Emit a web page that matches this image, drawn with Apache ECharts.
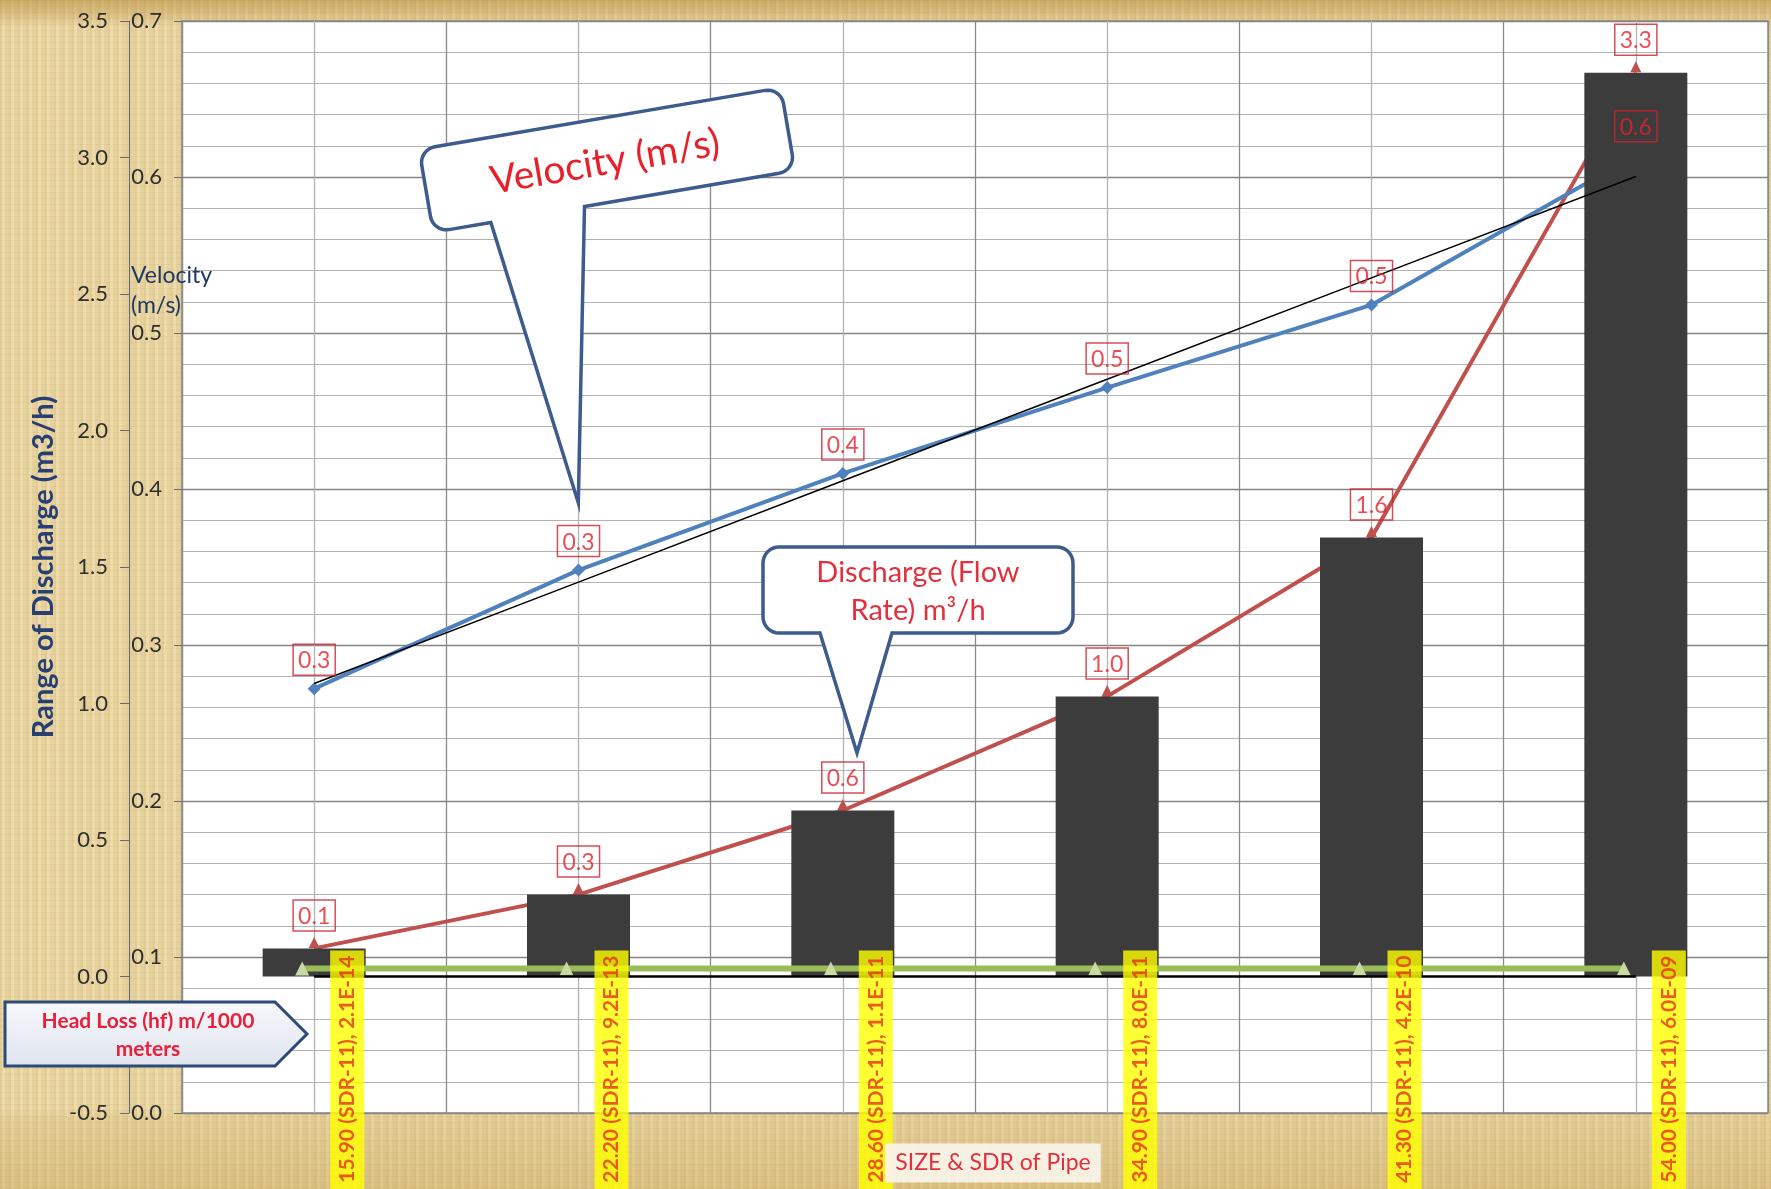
<!DOCTYPE html>
<html>
<head>
<meta charset="utf-8">
<script src="https://cdn.jsdelivr.net/npm/echarts@6/dist/echarts.min.js"></script>
<style>
html,body{margin:0;padding:0;}
body{
  width:1771px;height:1189px;overflow:hidden;
  background-color:#ebd7a3;
  background-image:
    linear-gradient(180deg, rgba(175,130,45,0.50) 0px, rgba(175,130,45,0.28) 14px, rgba(175,130,45,0) 26px),
    linear-gradient(0deg, rgba(185,145,60,0.30) 0px, rgba(185,145,60,0.12) 70px, rgba(185,145,60,0) 80px),
    repeating-linear-gradient(90deg, rgba(150,110,40,0.10) 0px, rgba(150,110,40,0.10) 2px, rgba(255,250,230,0.12) 2px, rgba(255,250,230,0.12) 5px, rgba(150,110,40,0.05) 5px, rgba(150,110,40,0.05) 9px),
    repeating-linear-gradient(0deg, rgba(140,100,30,0.07) 0px, rgba(140,100,30,0.07) 1px, rgba(255,255,255,0) 1px, rgba(255,255,255,0) 6px);
}
#chart{width:1771px;height:1189px;}
</style>
</head>
<body>
<div id="chart"></div>
<script>
// ---------------- DATA ----------------
const pipeSizes = ['15.90', '22.20', '28.60', '34.90', '41.30', '54.00'];
const pipeSdr = ['SDR-11', 'SDR-11', 'SDR-11', 'SDR-11', 'SDR-11', 'SDR-11'];
const headLoss = [2.1e-14, 9.2e-13, 1.1e-11, 8.0e-11, 4.2e-10, 6.0e-9];   // m/1000 m
const discharge = [0.103, 0.300, 0.608, 1.026, 1.608, 3.31];               // m3/h
const velocity = [0.272, 0.348, 0.410, 0.465, 0.518, 0.614];               // m/s
const dischargeAxis = { min: -0.5, max: 3.5, step: 0.5 };
const velocityAxis = { min: 0, max: 0.7, step: 0.1 };

// ---------------- helpers ----------------
function sci(v) {
  const parts = v.toExponential(1).split('e');
  const n = parseInt(parts[1], 10);
  return parts[0] + 'E' + (n < 0 ? '-' : '+') + String(Math.abs(n)).padStart(2, '0');
}
const categories = pipeSizes.map((s, i) => s + ' (' + pipeSdr[i] + '), ' + sci(headLoss[i]));

function linearTrend(vals) {
  const n = vals.length;
  const xs = vals.map((_, i) => i + 1);
  const mx = xs.reduce((a, b) => a + b, 0) / n;
  const my = vals.reduce((a, b) => a + b, 0) / n;
  let sxy = 0, sxx = 0;
  for (let i = 0; i < n; i++) { sxy += (xs[i] - mx) * (vals[i] - my); sxx += (xs[i] - mx) * (xs[i] - mx); }
  const b = sxy / sxx, a = my - b * mx;
  return xs.map(x => a + b * x);
}
const velocityTrend = linearTrend(velocity);
const headLossTrend = linearTrend(headLoss);

// callout outline (rounded rect + tail), local coords centred on box
function calloutPts(w, h, r, tail) {
  const pts = [], hw = w / 2, hh = h / 2;
  const arc = (cx, cy, a0, a1) => {
    for (let k = 0; k <= 8; k++) {
      const a = a0 + (a1 - a0) * k / 8;
      pts.push([cx + r * Math.cos(a), cy + r * Math.sin(a)]);
    }
  };
  arc(-hw + r, -hh + r, Math.PI, 1.5 * Math.PI);
  arc(hw - r, -hh + r, 1.5 * Math.PI, 2 * Math.PI);
  arc(hw - r, hh - r, 0, 0.5 * Math.PI);
  if (tail) { pts.push([tail.r, hh], [tail.tx, tail.ty], [tail.l, hh]); }
  arc(-hw + r, hh - r, 0.5 * Math.PI, Math.PI);
  return pts;
}
function place(pts, cx, cy, phi) {
  const c = Math.cos(phi), s = Math.sin(phi);
  return pts.map(p => [cx + p[0] * c - p[1] * s, cy + p[0] * s + p[1] * c]);
}

const FONT = 'Lato, "Liberation Sans", sans-serif';
const velPhi = -0.1692;
const velCallout = place(calloutPts(367, 84, 16, { l: -125, r: -30, tx: -86, ty: 333 }), 607, 160, velPhi);
const disCallout = place(calloutPts(310, 86, 16, { l: -98, r: -26, tx: -61, ty: 163 }), 918, 590, 0);

const boxLabel = {
  show: true, position: 'top', distance: 15,
  color: '#e3202c', fontSize: 23, fontFamily: FONT,
  borderColor: '#cc2230', borderWidth: 1.5, padding: [5, 5, 3, 5],
  formatter: p => Number(p.value).toFixed(1)
};

// ---------------- chart ----------------
const chart = echarts.init(document.getElementById('chart'), null, { renderer: 'canvas' });
chart.setOption({
  backgroundColor: 'transparent',
  animation: false,
  textStyle: { fontFamily: FONT },
  grid: [
    { left: 182, top: 21, right: 3, bottom: 76, show: true, backgroundColor: '#ffffff', borderColor: '#8c8c8c', borderWidth: 1.5 },
    { left: 170, top: 13, right: 15, bottom: 84, show: false }
  ],
  xAxis: [
    {
      type: 'category', gridIndex: 0, data: categories, boundaryGap: true,
      axisLine: { show: false, onZero: false }, axisTick: { show: false }, axisLabel: { show: false },
      splitLine: { show: false }
    },
    {
      type: 'category', gridIndex: 1, data: categories, boundaryGap: true, show: false
    },
    {
      type: 'value', gridIndex: 0, min: 0, max: 12, interval: 1, position: 'top',
      axisLine: { show: false }, axisTick: { show: false }, axisLabel: { show: false },
      splitLine: { show: true, lineStyle: { color: ['#8a8a8a', '#b3b3b3'], width: 1.3 } }
    }
  ],
  yAxis: [
    {
      type: 'value', gridIndex: 0, position: 'left', offset: 53,
      min: dischargeAxis.min, max: dischargeAxis.max, interval: dischargeAxis.step,
      axisLine: { show: true, onZero: false, lineStyle: { color: '#6a6a6a', width: 1.2 } },
      axisTick: { show: true, length: 9, lineStyle: { color: '#6a6a6a' } },
      axisLabel: { margin: 21, color: '#2e2e2e', fontSize: 22, fontFamily: FONT, formatter: v => v.toFixed(1) },
      splitLine: { show: false },
      name: 'Range of Discharge (m3/h)', nameLocation: 'middle', nameGap: 66,
      nameTextStyle: { color: '#283f73', fontSize: 29, fontWeight: 'bold', fontFamily: FONT }
    },
    {
      type: 'value', gridIndex: 0, position: 'left', offset: 0,
      min: velocityAxis.min, max: velocityAxis.max, interval: velocityAxis.step,
      axisLine: { show: true, onZero: false, lineStyle: { color: '#8c8c8c', width: 1.2 } },
      axisTick: { show: true, length: 8, lineStyle: { color: '#6a6a6a' } },
      axisLabel: { margin: 20, color: '#2e2e2e', fontSize: 22, fontFamily: FONT, formatter: v => v.toFixed(1) },
      splitLine: { show: true, lineStyle: { color: '#858585', width: 1.4 } },
      minorTick: { show: false, splitNumber: 5 },
      minorSplitLine: { show: true, lineStyle: { color: '#b3b3b3', width: 1.2 } }
    },
    {
      type: 'value', gridIndex: 1, min: dischargeAxis.min, max: dischargeAxis.max, show: false,
      axisLine: { onZero: false }, splitLine: { show: false }
    }
  ],
  series: [
    {
      name: 'Discharge line', type: 'line', xAxisIndex: 0, yAxisIndex: 0, data: discharge, z: 2,
      lineStyle: { color: '#c0504d', width: 4 }, itemStyle: { color: '#c0504d' },
      symbol: 'triangle', symbolSize: 11, symbolOffset: [0, -6]
    },
    {
      name: 'Velocity', type: 'line', xAxisIndex: 0, yAxisIndex: 1, data: velocity, z: 2,
      lineStyle: { color: '#4f81bd', width: 4 }, itemStyle: { color: '#4f81bd' },
      symbol: 'diamond', symbolSize: 13
    },
    {
      name: 'Discharge', type: 'bar', xAxisIndex: 0, yAxisIndex: 0, data: discharge, z: 3,
      barWidth: 103, itemStyle: { color: '#3c3c3c' }
    },
    {
      name: 'Head Loss', type: 'line', xAxisIndex: 1, yAxisIndex: 2, data: headLoss, z: 4,
      lineStyle: { color: '#9bbb59', width: 6 }, itemStyle: { color: '#c9d9a6' },
      symbol: 'triangle', symbolSize: 14
    },
    {
      name: 'Head Loss trend', type: 'line', xAxisIndex: 0, yAxisIndex: 0, data: headLossTrend, z: 5,
      lineStyle: { color: '#000', width: 2.5 }, symbol: 'none'
    },
    {
      name: 'Velocity trend', type: 'line', xAxisIndex: 0, yAxisIndex: 1, data: velocityTrend, z: 5,
      lineStyle: { color: '#000', width: 1.5 }, symbol: 'none'
    },
    {
      name: 'Discharge labels', type: 'scatter', xAxisIndex: 0, yAxisIndex: 0, data: discharge, z: 8,
      symbolSize: 1, itemStyle: { color: 'rgba(0,0,0,0)' }, label: Object.assign({}, boxLabel, { distance: 17 })
    },
    {
      name: 'Velocity labels', type: 'scatter', xAxisIndex: 0, yAxisIndex: 1, data: velocity, z: 8,
      symbolSize: 1, itemStyle: { color: 'rgba(0,0,0,0)' }, label: Object.assign({}, boxLabel, { distance: 13 })
    },
    {
      name: 'Pipe labels', type: 'scatter', xAxisIndex: 0, yAxisIndex: 0, data: headLoss, z: 7,
      symbolSize: 1, itemStyle: { color: 'rgba(0,0,0,0)' },
      label: {
        show: true, position: 'inside', rotate: 90, align: 'right', verticalAlign: 'middle',
        offset: [26, 33],
        formatter: p => categories[p.dataIndex],
        color: '#e5351a', fontWeight: 'bold', fontSize: 21, fontFamily: FONT,
        backgroundColor: '#ffff00', padding: [5, 5, 4, 30], lineHeight: 25
      }
    }
  ],
  graphic: [
    { type: 'polygon', z: 100, shape: { points: velCallout }, style: { fill: '#ffffff', stroke: '#3d5b8c', lineWidth: 3.5 } },
    { type: 'text', z: 101, x: 605, y: 162, rotation: -velPhi,
      style: { text: 'Velocity (m/s)', fill: '#e8202a', font: '39px ' + FONT, align: 'center', verticalAlign: 'middle' } },
    { type: 'polygon', z: 100, shape: { points: disCallout }, style: { fill: '#ffffff', stroke: '#3d5b8c', lineWidth: 3.5 } },
    { type: 'text', z: 101, x: 918, y: 592,
      style: { text: 'Discharge (Flow\nRate) m\u00b3/h', fill: '#e2303c', font: '29px ' + FONT, lineHeight: 38, align: 'center', verticalAlign: 'middle' } },
    { type: 'polygon', z: 100, shape: { points: [[5, 1002], [275, 1002], [307, 1034], [275, 1066], [5, 1066]] },
      style: { fill: new echarts.graphic.LinearGradient(0, 0, 0, 1, [{ offset: 0, color: '#f7f8fb' }, { offset: 1, color: '#dfe4ee' }]), stroke: '#2e4a78', lineWidth: 3 } },
    { type: 'text', z: 101, x: 148, y: 1035,
      style: { text: 'Head Loss (hf) m/1000\nmeters', fill: '#e8203a', font: 'bold 21px ' + FONT, lineHeight: 28, align: 'center', verticalAlign: 'middle' } },
    { type: 'text', z: 101, x: 131, y: 261,
      style: { text: 'Velocity\n(m/s)', fill: '#1f3864', font: '23px ' + FONT, lineHeight: 30, align: 'left', verticalAlign: 'top' } },
    { type: 'text', z: 101, x: 993, y: 1163,
      style: { text: 'SIZE & SDR of Pipe', fill: '#e2303c', font: '23px ' + FONT, align: 'center', verticalAlign: 'middle',
        backgroundColor: 'rgba(248,244,236,0.92)', padding: [8, 10, 8, 10] } }
  ]
});
</script>
</body>
</html>
